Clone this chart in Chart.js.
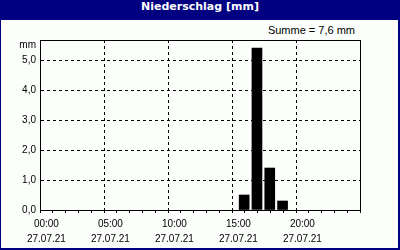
<!DOCTYPE html>
<html>
<head>
<meta charset="utf-8">
<script src="https://cdn.jsdelivr.net/npm/chart.js@4/dist/chart.umd.min.js"></script>
<style>
  html, body { margin: 0; padding: 0; background: #ffffff; }
  #frame { position: relative; width: 400px; height: 250px; background: #000080; overflow: hidden; }
  #inner { position: absolute; left: 1px; top: 20px; width: 397px; height: 228px; background: #fbfefb; }
  #title { position: absolute; left: 0; top: 0; width: 400px; height: 20px; line-height: 17px; text-align: center;
           color: #ffffff; font: bold 11px "DejaVu Sans", sans-serif; }
  #summe { position: absolute; right: 45px; top: 24px; line-height: 14px; color: #000000;
           font: 11px "Liberation Sans", sans-serif; }
  canvas { position: absolute; left: 0; top: 0; }
</style>
</head>
<body>
<div id="frame">
  <div id="inner"></div>
  <div id="title">Niederschlag [mm]</div>
  <div id="summe">Summe = 7,6 mm</div>
  <canvas id="c" width="400" height="250"></canvas>
</div>
<script>
// ---- data ----
const rainHours   = [15, 16, 17, 18];          // hour of day at which each hourly sum starts
const rainValues  = [0.5, 5.4, 1.4, 0.3];      // mm
const xTickHours  = [0, 5, 10, 15, 20];
const xTickTimes  = ['00:00', '05:00', '10:00', '15:00', '20:00'];
const xTickDates  = ['27.07.21', '27.07.21', '27.07.21', '27.07.21', '27.07.21'];
const yTickValues = [0, 1, 2, 3, 4, 5];
const yUnitLabel  = 'mm';
const yUnitPos    = 5.5;
const xMin = 0, xMax = 24;
const yMin = 0, yMax = 5.67;

const FONT = { family: '"Liberation Sans", sans-serif', size: 10 };

const chart = new Chart(document.getElementById('c'), {
  type: 'bar',
  data: {
    datasets: [{
      data: rainHours.map((h, i) => ({ x: h + 0.45, y: rainValues[i] })),
      backgroundColor: '#000000',
      borderWidth: 0,
      barThickness: 10
    }]
  },
  options: {
    responsive: false,
    animation: false,
    devicePixelRatio: 1,
    layout: { padding: { top: 40, left: 0, right: 0, bottom: 0 } },
    plugins: { legend: { display: false }, tooltip: { enabled: false }, title: { display: false } },
    scales: {
      x: {
        type: 'linear', position: 'bottom', min: xMin, max: xMax,
        afterFit: s => { s.height = 40; },
        ticks: {
          stepSize: 1, autoSkip: false, maxRotation: 0, minRotation: 0,
          color: '#000', font: { ...FONT, lineHeight: '15px' }, padding: 4,
          callback: v => {
            const k = xTickHours.indexOf(v);
            return k >= 0 ? [xTickTimes[k], xTickDates[k]] : '';
          }
        },
        grid: {
          color: c => (c.tick && c.tick.value % 5 === 0 && c.tick.value > 0 && c.tick.value < xMax) ? '#000' : 'rgba(0,0,0,0)',
          tickColor: '#000', tickLength: 3, tickWidth: 1, tickBorderDash: [], lineWidth: 1
        },
        border: { display: true, color: '#000', width: 1, dash: [3, 3] }
      },
      xTop: {
        type: 'linear', position: 'top', min: xMin, max: xMax,
        afterFit: s => { s.height = 0; },
        ticks: { display: false },
        grid: { display: false, drawTicks: false },
        border: { display: true, color: '#000', width: 1 }
      },
      y: {
        type: 'linear', position: 'left', min: yMin, max: yMax,
        afterFit: s => { s.width = 40; },
        afterBuildTicks: s => { s.ticks = yTickValues.map(v => ({ value: v })).concat([{ value: yUnitPos }]); },
        ticks: {
          color: '#000', font: FONT, padding: 4,
          callback: v => (v === yUnitPos ? yUnitLabel : v.toFixed(1).replace('.', ','))
        },
        grid: {
          drawTicks: false,
          color: c => (c.tick && c.tick.value > 0 && Number.isInteger(c.tick.value)) ? '#000' : 'rgba(0,0,0,0)',
          lineWidth: 1
        },
        border: { display: true, color: '#000', width: 1, dash: [3, 3] }
      },
      yR: {
        type: 'linear', position: 'right', min: yMin, max: yMax,
        afterFit: s => { s.width = 40; },
        ticks: { display: false },
        grid: { display: false, drawTicks: false },
        border: { display: true, color: '#000', width: 1 }
      }
    }
  }
});
</script>
</body>
</html>
